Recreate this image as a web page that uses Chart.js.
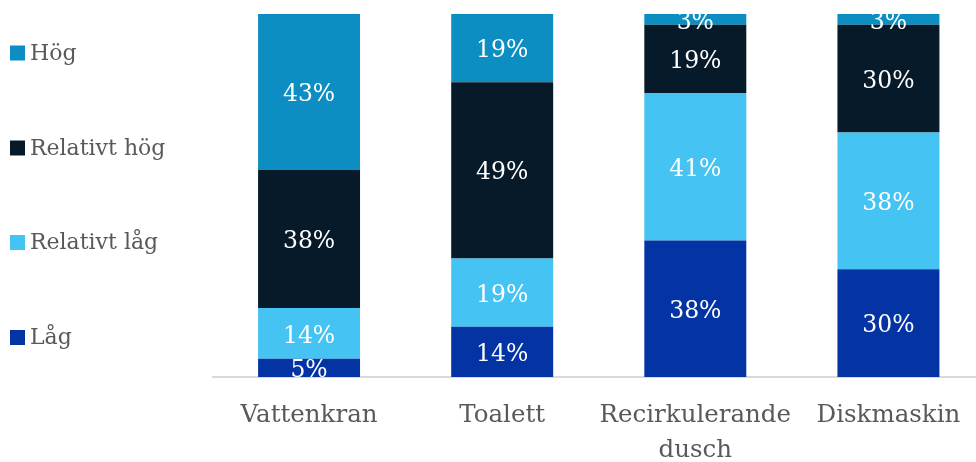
<!DOCTYPE html>
<html>
<head>
<meta charset="utf-8">
<script src="https://cdn.jsdelivr.net/npm/chart.js@4.4.1/dist/chart.umd.min.js"></script>
<style>
html, body { margin: 0; padding: 0; background: #ffffff; overflow: hidden; }
#wrap { position: absolute; left: 0; top: 0; width: 985px; height: 462px; }
</style>
</head>
<body>
<div id="wrap"><canvas id="c" width="985" height="462"></canvas></div>
<script>
const categories = ['Vattenkran', 'Toalett', ['Recirkulerande', 'dusch'], 'Diskmaskin'];
const seriesNames = ['Låg', 'Relativt låg', 'Relativt hög', 'Hög'];
const lag = [5, 14, 38, 30];
const relativtLag = [14, 19, 41, 38];
const relativtHog = [38, 49, 19, 30];
const hog = [43, 19, 3, 3];
const seriesColors = ['#0433A3', '#45C3F2', '#071A29', '#0D8EC2'];
const yMax = 100;

const FONT = '"DejaVu Serif", "Liberation Serif", serif';
const TEXT_COLOR = '#595959';

const seriesValues = [lag, relativtLag, relativtHog, hog];
// 100% stacked: each category is scaled to its own total
const totals = categories.map((_, i) => seriesValues.reduce((s, arr) => s + arr[i], 0));
const shares = seriesValues.map(arr => arr.map((v, i) => v / totals[i] * 100));

const labelPlugin = {
  id: 'segmentLabels',
  afterDatasetsDraw(chart) {
    const ctx = chart.ctx;
    const area = chart.chartArea;
    ctx.save();
    ctx.beginPath();
    ctx.rect(area.left, area.top, area.right - area.left, area.bottom - area.top);
    ctx.clip();
    ctx.fillStyle = '#ffffff';
    ctx.font = '23.5px ' + FONT;
    ctx.textAlign = 'center';
    ctx.textBaseline = 'middle';
    chart.data.datasets.forEach((ds, di) => {
      const meta = chart.getDatasetMeta(di);
      meta.data.forEach((el, i) => {
        const cy = (el.y + el.base) / 2;
        ctx.fillText(seriesValues[di][i] + '%', el.x, cy + 3);
      });
    });
    ctx.restore();
  }
};

const legendPlugin = {
  id: 'sideLegend',
  afterDraw(chart) {
    const ctx = chart.ctx;
    const centers = [337.5, 242.5, 148, 53];
    ctx.save();
    ctx.font = '22px ' + FONT;
    ctx.textAlign = 'left';
    ctx.textBaseline = 'middle';
    chart.data.datasets.forEach((ds, di) => {
      const cy = centers[di];
      ctx.fillStyle = ds.backgroundColor;
      ctx.fillRect(10, cy - 7.5, 15, 15);
      ctx.fillStyle = TEXT_COLOR;
      ctx.fillText(ds.label, 30, cy + 1);
    });
    ctx.restore();
  }
};

new Chart(document.getElementById('c'), {
  type: 'bar',
  data: {
    labels: categories,
    datasets: seriesNames.map((name, i) => ({
      label: name,
      data: shares[i],
      backgroundColor: seriesColors[i],
      borderWidth: 0,
      categoryPercentage: 1,
      barPercentage: 0.528
    }))
  },
  options: {
    responsive: false,
    animation: false,
    devicePixelRatio: 1,
    layout: { padding: { left: 212.5, right: 0, top: 14, bottom: 0 } },
    plugins: {
      legend: { display: false },
      tooltip: { enabled: false }
    },
    scales: {
      x: {
        stacked: true,
        grid: { display: false, drawTicks: false },
        border: { display: true, color: '#d9d9d9', width: 2 },
        ticks: {
          color: TEXT_COLOR,
          font: { family: FONT, size: 24.5, lineHeight: 1.42 },
          padding: 21,
          maxRotation: 0,
          autoSkip: false
        },
        afterFit(scale) { scale.height = 85; }
      },
      y: {
        stacked: true,
        display: false,
        min: 0,
        max: yMax
      }
    }
  },
  plugins: [labelPlugin, legendPlugin]
});
</script>
</body>
</html>
